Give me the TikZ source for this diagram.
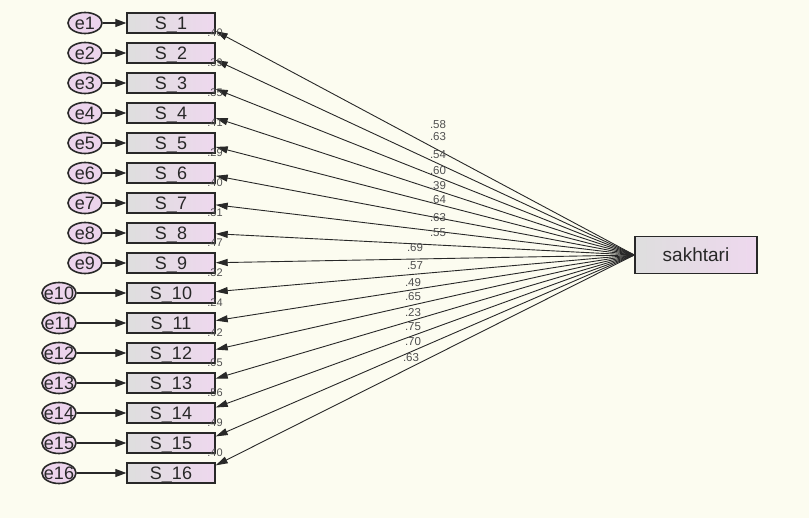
\documentclass[tikz,border=0pt]{standalone}
\usepackage{fontspec}
\setmainfont{Liberation Sans}
\usetikzlibrary{arrows.meta,shapes.geometric,calc}
\definecolor{bg}{RGB}{252,252,240}
\definecolor{boxl}{RGB}{222,222,222}
\definecolor{boxr}{RGB}{238,216,238}
\definecolor{ovalfill}{RGB}{236,212,236}
\definecolor{ink}{RGB}{40,40,40}
\definecolor{lbl}{RGB}{80,80,80}
\begin{document}
\begin{tikzpicture}[x=1pt,y=-1pt,
  obs/.style={draw=ink, line width=1.4pt, left color=boxl, right color=boxr,
    minimum width=88pt, minimum height=20pt, inner sep=0pt, text depth=0pt,
    font=\fontsize{18}{18}\selectfont, text=ink},
  lat/.style={draw=ink, line width=1.4pt, left color=boxl, right color=boxr,
    minimum width=122pt, minimum height=37pt, inner sep=0pt,
    font=\fontsize{19}{19}\selectfont, text=ink},
  err/.style={ellipse, draw=ink, line width=1.6pt, fill=ovalfill,
    minimum width=34pt, minimum height=21pt, inner sep=0pt, text depth=0pt,
    font=\fontsize{18}{18}\selectfont, text=ink},
  earrow/.style={draw=ink, line width=1.2pt, -{Triangle[length=11pt,width=8pt]}},
  load/.style={draw=ink, line width=0.9pt, -{Triangle[length=12pt,width=7pt]}},
  r2/.style={font=\fontsize{11}{11}\selectfont, text=lbl, inner sep=0pt},
  wt/.style={font=\fontsize{11.5}{11.5}\selectfont, text=lbl, inner sep=0pt}]
\useasboundingbox (0,0) rectangle (809,518);
\fill[bg] (0,0) rectangle (809,518);

\node[lat] (H) at (696,255) {sakhtari};

\foreach \i in {1,...,16} {
  \pgfmathsetmacro\yy{23+30*(\i-1)}
  \pgfmathsetmacro\ex{\i<10 ? 85 : 59}
  \pgfmathsetmacro\off{-(255-\yy)*0.035}
  \node[obs] (S\i) at (171,\yy) {S\_\i};
  \node[err] (e\i) at (\ex,\yy) {\makebox[0pt]{e\i}};
  \draw[earrow] (e\i) -- (S\i);
  \draw[load] (H.west) -- ([yshift=\off pt]S\i.east);
}

% squared multiple correlations
\foreach \i/\v in {2/.40,3/.39,4/.35,5/.41,6/.29,7/.40,8/.31,9/.47,10/.32,11/.24,12/.42,13/.05,14/.56,15/.49,16/.40} {
  \pgfmathsetmacro\yy{23+30*(\i-2)+10}
  \node[r2] (r\i) at (215,\yy) {\v};
}

% regression weights
\foreach \n/\x/\y/\v in {1/438/125/.58, 2/438/137/.63, 3/438/155/.54, 4/438/171/.60,
  5/438/186/.39, 6/438/200/.64, 7/438/218/.63, 8/438/233/.55, 9/415/248/.69,
  10/415/266/.57, 11/413/283/.49, 12/413/297/.65, 13/413/313/.23, 14/413/327/.75,
  15/413/342/.70, 16/411/358/.63} {
  \node[wt] (w\n) at (\x,\y) {\v};
}
\end{tikzpicture}
\end{document}
